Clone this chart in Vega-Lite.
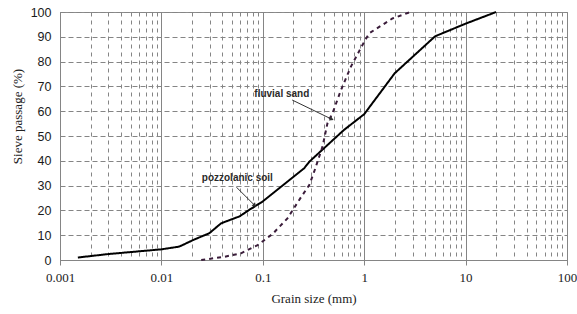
{
  "$schema": "https://vega.github.io/schema/vega-lite/v6.json",
  "width": 507,
  "height": 248,
  "autosize": {"type": "none"},
  "padding": {"left": 60, "top": 12, "right": 10, "bottom": 54},
  "background": "white",
  "config": {"view": {"stroke": "#8c8c8c", "strokeWidth": 1}},
  "datasets": {
    "curves": [
      {"series": "pozzolanic soil", "size": 0.0015, "passage": 1},
      {"series": "pozzolanic soil", "size": 0.003, "passage": 2.4},
      {"series": "pozzolanic soil", "size": 0.01, "passage": 4.3},
      {"series": "pozzolanic soil", "size": 0.015, "passage": 5.4},
      {"series": "pozzolanic soil", "size": 0.0212, "passage": 8.3},
      {"series": "pozzolanic soil", "size": 0.0297, "passage": 10.8},
      {"series": "pozzolanic soil", "size": 0.0388, "passage": 14.8},
      {"series": "pozzolanic soil", "size": 0.059, "passage": 17.6},
      {"series": "pozzolanic soil", "size": 0.0734, "passage": 20.2},
      {"series": "pozzolanic soil", "size": 0.099, "passage": 23.5},
      {"series": "pozzolanic soil", "size": 0.256, "passage": 37},
      {"series": "pozzolanic soil", "size": 0.287, "passage": 39.6},
      {"series": "pozzolanic soil", "size": 0.63, "passage": 52.4},
      {"series": "pozzolanic soil", "size": 1, "passage": 58.8},
      {"series": "pozzolanic soil", "size": 2, "passage": 75.3},
      {"series": "pozzolanic soil", "size": 5, "passage": 90.2},
      {"series": "pozzolanic soil", "size": 10, "passage": 95.3},
      {"series": "pozzolanic soil", "size": 20, "passage": 100},
      {"series": "fluvial sand", "size": 0.0247, "passage": 0},
      {"series": "fluvial sand", "size": 0.0418, "passage": 1.3},
      {"series": "fluvial sand", "size": 0.061, "passage": 2.7},
      {"series": "fluvial sand", "size": 0.0889, "passage": 6},
      {"series": "fluvial sand", "size": 0.125, "passage": 10.5},
      {"series": "fluvial sand", "size": 0.175, "passage": 16.8},
      {"series": "fluvial sand", "size": 0.238, "passage": 25.3},
      {"series": "fluvial sand", "size": 0.287, "passage": 30.2},
      {"series": "fluvial sand", "size": 0.321, "passage": 35.6},
      {"series": "fluvial sand", "size": 0.388, "passage": 45.7},
      {"series": "fluvial sand", "size": 0.434, "passage": 55.1},
      {"series": "fluvial sand", "size": 0.49, "passage": 59.5},
      {"series": "fluvial sand", "size": 0.59, "passage": 68.5},
      {"series": "fluvial sand", "size": 0.74, "passage": 78},
      {"series": "fluvial sand", "size": 1, "passage": 88},
      {"series": "fluvial sand", "size": 1.12, "passage": 91.4},
      {"series": "fluvial sand", "size": 1.9, "passage": 97.4},
      {"series": "fluvial sand", "size": 2.87, "passage": 100}
    ],
    "notes": [
      {"label": "pozzolanic soil", "tx": 0.0561, "ty": 33.1, "x1": 0.0548, "y1": 29.4, "x2": 0.0824, "y2": 22.2},
      {"label": "fluvial sand", "tx": 0.154, "ty": 66.9, "x1": 0.195, "y1": 64.5, "x2": 0.472, "y2": 56.9}
    ]
  },
  "layer": [
    {
      "data": {"name": "curves"},
      "mark": {"type": "line", "strokeWidth": 2},
      "encoding": {
        "x": {
          "field": "size",
          "type": "quantitative",
          "scale": {"type": "log", "domain": [0.001, 100], "nice": false},
          "axis": {
            "values": [0.001,0.002,0.003,0.004,0.005,0.006,0.007,0.008,0.009,0.01,0.02,0.03,0.04,0.05,0.06,0.07,0.08,0.09,0.1,0.2,0.3,0.4,0.5,0.6,0.7,0.8,0.9,1,2,3,4,5,6,7,8,9,10,20,30,40,50,60,70,80,90,100],
            "title": "Grain size (mm)",
            "titleFont": "Liberation Serif",
            "titleFontSize": 13,
            "titleFontWeight": "normal",
            "titleColor": "#222222",
            "titlePadding": 8,
            "labelFont": "Liberation Serif",
            "labelFontSize": 13,
            "labelColor": "#222222",
            "labelOverlap": false,
            "labelFlush": false,
            "labelPadding": 6,
            "labelExpr": "abs(log(datum.value)/LN10 - round(log(datum.value)/LN10)) < 0.000001 ? format(datum.value, '~g') : ''",
            "gridColor": "#858585",
            "gridWidth": 1,
            "gridDash": {"condition": {"test": "abs(log(datum.value)/LN10 - round(log(datum.value)/LN10)) < 0.000001", "value": []}, "value": [4, 4]},
            "tickSize": 5,
            "tickColor": "#858585",
            "tickOpacity": {"condition": {"test": "abs(log(datum.value)/LN10 - round(log(datum.value)/LN10)) < 0.000001", "value": 1}, "value": 0},
            "domainColor": "#858585"
          }
        },
        "y": {
          "field": "passage",
          "type": "quantitative",
          "scale": {"domain": [0, 100], "nice": false},
          "axis": {
            "values": [0,10,20,30,40,50,60,70,80,90,100],
            "tickCount": 11,
            "labelOverlap": false,
            "title": "Sieve passage (%)",
            "titleFont": "Liberation Serif",
            "titleFontSize": 13,
            "titleFontWeight": "normal",
            "titleColor": "#222222",
            "titleAngle": -90,
            "titleAlign": "center",
            "titleBaseline": "middle",
            "titleX": -43,
            "titleY": 104,
            "labelFont": "Liberation Sans",
            "labelFontSize": 12.5,
            "labelColor": "#1a1a1a",
            "labelPadding": 9,
            "ticks": false,
            "gridColor": "#858585",
            "gridDash": [5, 3],
            "domainColor": "#858585"
          }
        },
        "color": {
          "field": "series",
          "type": "nominal",
          "scale": {"domain": ["fluvial sand", "pozzolanic soil"], "range": ["#3a1c3a", "#000000"]},
          "legend": null
        },
        "strokeDash": {
          "field": "series",
          "type": "nominal",
          "scale": {"domain": ["fluvial sand", "pozzolanic soil"], "range": [[4, 4], [1, 0]]},
          "legend": null
        }
      }
    },
    {
      "data": {"name": "notes"},
      "mark": {"type": "text", "font": "Liberation Sans", "fontSize": 10, "fontWeight": "bold", "color": "#2a2a2a"},
      "encoding": {
        "x": {"field": "tx", "type": "quantitative", "scale": {"type": "log"}},
        "y": {"field": "ty", "type": "quantitative", "axis": {"values": [0,10,20,30,40,50,60,70,80,90,100], "tickCount": 11}},
        "text": {"field": "label"}
      }
    },
    {
      "data": {"name": "notes"},
      "mark": {"type": "rule", "color": "#333333", "strokeWidth": 1},
      "encoding": {
        "x": {"field": "x1", "type": "quantitative", "scale": {"type": "log"}},
        "y": {"field": "y1", "type": "quantitative", "axis": {"values": [0,10,20,30,40,50,60,70,80,90,100], "tickCount": 11}},
        "x2": {"field": "x2"},
        "y2": {"field": "y2"}
      }
    },
    {
      "data": {"name": "notes"},
      "transform": [{"filter": "datum.label == 'pozzolanic soil'"}],
      "mark": {"type": "point", "shape": "triangle", "filled": true, "size": 22, "angle": 135, "color": "#333333", "opacity": 1},
      "encoding": {
        "x": {"field": "x2", "type": "quantitative", "scale": {"type": "log"}},
        "y": {"field": "y2", "type": "quantitative", "axis": {"values": [0,10,20,30,40,50,60,70,80,90,100], "tickCount": 11}}
      }
    },
    {
      "data": {"name": "notes"},
      "transform": [{"filter": "datum.label == 'fluvial sand'"}],
      "mark": {"type": "point", "shape": "triangle", "filled": true, "size": 22, "angle": 116, "color": "#333333", "opacity": 1},
      "encoding": {
        "x": {"field": "x2", "type": "quantitative", "scale": {"type": "log"}},
        "y": {"field": "y2", "type": "quantitative", "axis": {"values": [0,10,20,30,40,50,60,70,80,90,100], "tickCount": 11}}
      }
    }
  ]
}
